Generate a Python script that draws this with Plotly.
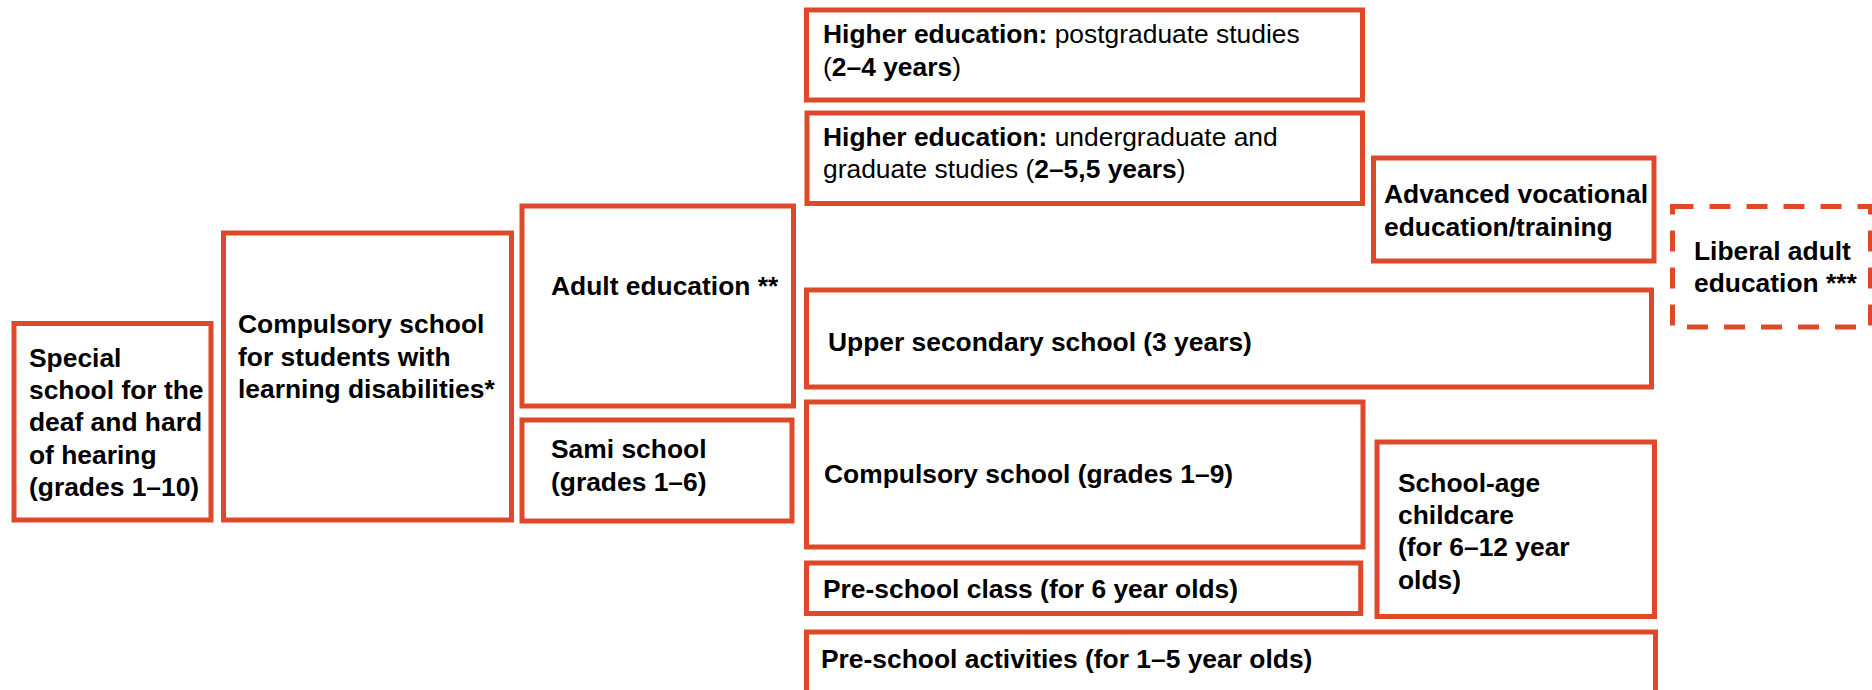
import plotly.graph_objects as go

W, H = 1872, 690
ORANGE = "#DE4A29"
FONT = "Liberation Sans, Arial, Helvetica, sans-serif"
FONT_SIZE = 26.4
LINE_PITCH = 32.4

# Boxes of the Swedish school system diagram (pixel grid, y downward)
box_lines = [
    ["<b>Special</b>", "<b>school for the</b>", "<b>deaf and hard</b>", "<b>of hearing</b>", "<b>(grades 1–10)</b>"],
    ["<b>Compulsory school</b>", "<b>for students with</b>", "<b>learning disabilities*</b>"],
    ["<b>Adult education **</b>"],
    ["<b>Sami school</b>", "<b>(grades 1–6)</b>"],
    ["<b>Higher education:</b> postgraduate studies", "(<b>2–4 years</b>)"],
    ["<b>Higher education:</b> undergraduate and", "graduate studies (<b>2–5,5 years</b>)"],
    ["<b>Advanced vocational</b>", "<b>education/training</b>"],
    ["<b>Liberal adult</b>", "<b>education ***</b>"],
    ["<b>Upper secondary school (3 years)</b>"],
    ["<b>Compulsory school (grades 1–9)</b>"],
    ["<b>Pre-school class (for 6 year olds)</b>"],
    ["<b>School-age</b>", "<b>childcare</b>", "<b>(for 6–12 year</b>", "<b>olds)</b>"],
    ["<b>Pre-school activities (for 1–5 year olds)</b>"],
]
box_x0 = [14, 223.5, 522, 522, 806.5, 807, 1373.5, 1672.5, 806.5, 806.5, 806.5, 1377, 806.5]
box_x1 = [211, 511.5, 793.5, 792, 1362.5, 1362.5, 1654, 1870.5, 1651.5, 1363, 1360.7, 1654.5, 1655.5]
box_y0 = [323.5, 233, 206, 420, 10, 113, 158, 206.5, 290, 402, 563, 442, 632]
box_y1 = [520, 520, 406, 521, 100, 203.5, 261, 327, 387, 547, 613.5, 616.5, 700]
box_dashed = [False, False, False, False, False, False, False, True, False, False, False, False, False]
text_x = [28, 237, 550, 550, 821.7, 821.7, 1382.7, 1693.3, 826.7, 822.7, 821.7, 1396.7, 820]
text_baseline = [366.7, 333.3, 295, 458.3, 43.3, 145.7, 203.3, 260, 351, 483.3, 598.3, 491.7, 668.3]

fig = go.Figure()

for i in range(len(box_lines)):
    fig.add_shape(
        type="rect", xref="x", yref="y",
        x0=box_x0[i], x1=box_x1[i], y0=box_y0[i], y1=box_y1[i],
        line=dict(color=ORANGE, width=5, dash="21px,16px" if box_dashed[i] else "solid"),
        fillcolor="rgba(0,0,0,0)",
    )
    for j, line in enumerate(box_lines[i]):
        fig.add_annotation(
            x=text_x[i], y=text_baseline[i] + j * LINE_PITCH - 0.345 * FONT_SIZE,
            xref="x", yref="y", text=line, showarrow=False,
            xanchor="left", yanchor="middle", align="left", borderpad=0,
            font=dict(family=FONT, size=FONT_SIZE, color="#000000"),
        )

fig.update_layout(
    width=W, height=H,
    margin=dict(l=0, r=0, t=0, b=0),
    paper_bgcolor="white", plot_bgcolor="white",
    showlegend=False,
    xaxis=dict(range=[0, W], visible=False, fixedrange=True),
    yaxis=dict(range=[H, 0], visible=False, fixedrange=True),
)

fig.write_html("out.html", config={"displayModeBar": False},
               post_script="document.body.style.margin='0';")
